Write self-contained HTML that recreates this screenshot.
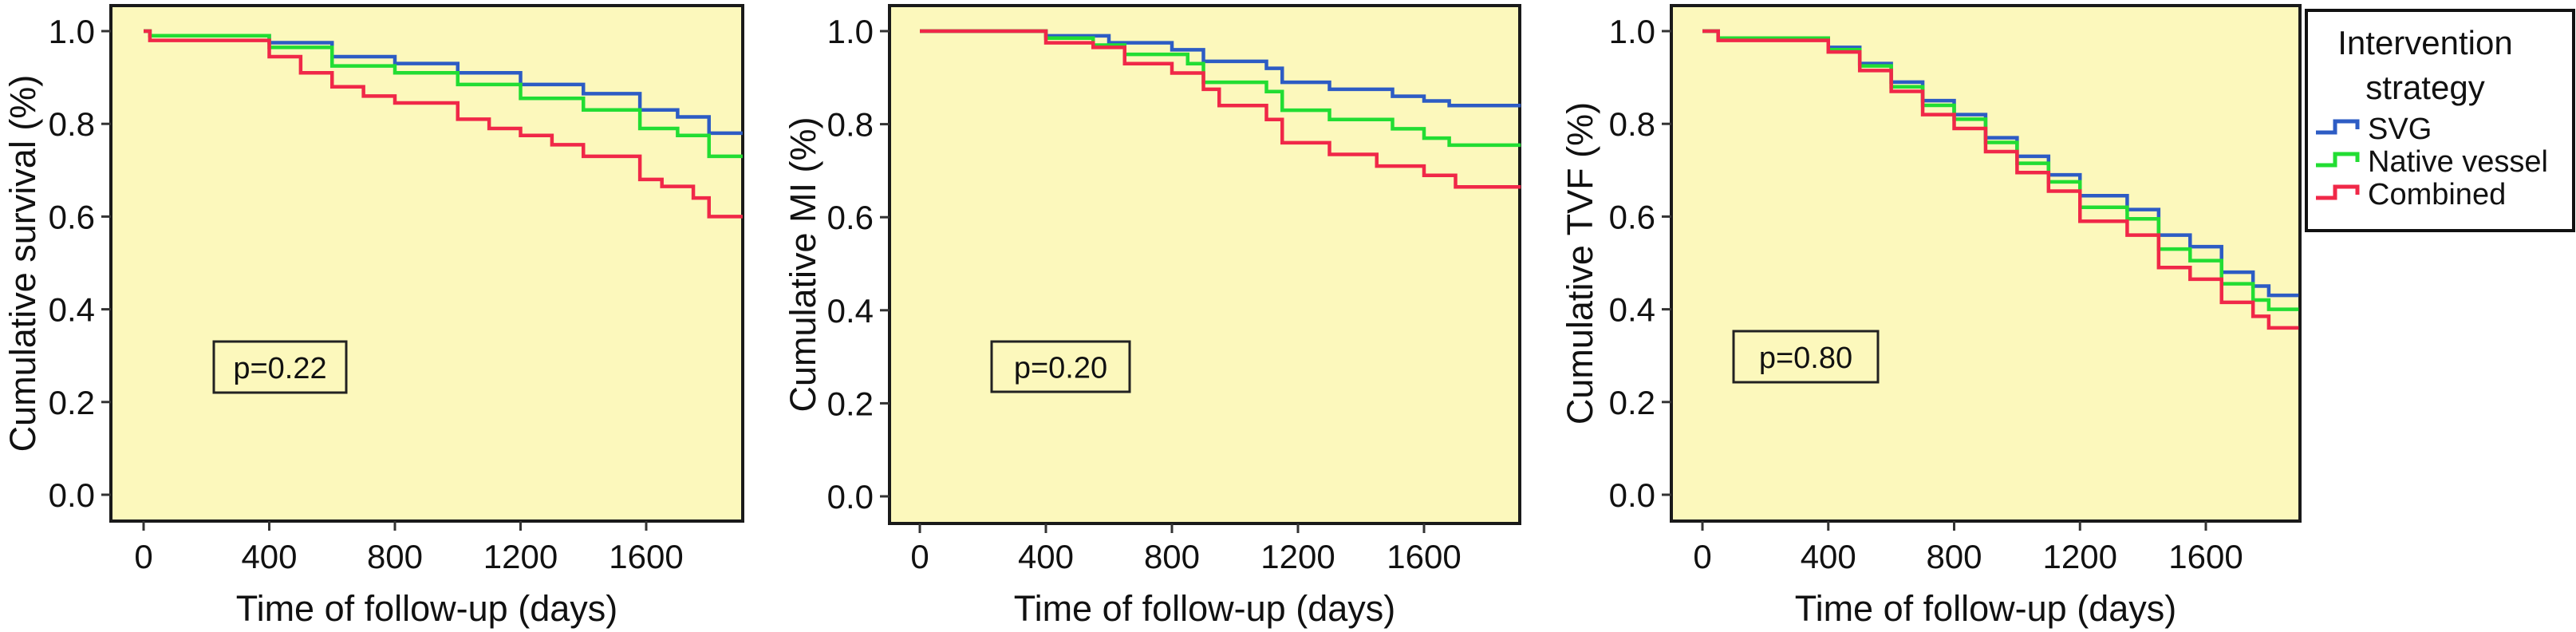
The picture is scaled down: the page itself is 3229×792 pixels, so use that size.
<!DOCTYPE html>
<html><head><meta charset="utf-8"><style>
html,body{margin:0;padding:0;background:#fff;}
svg{display:block;font-family:"Liberation Sans",sans-serif;}
</style></head><body>
<svg id="c" width="3229" height="792" viewBox="0 0 3229 792" xmlns="http://www.w3.org/2000/svg"></svg>
<script>
const xTicks = [0, 400, 800, 1200, 1600];
const yTicks = [0.0, 0.2, 0.4, 0.6, 0.8, 1.0];
const yTickLabels = ["0.0", "0.2", "0.4", "0.6", "0.8", "1.0"];
const seriesNames = ["SVG", "Native vessel", "Combined"];
const seriesColors = ["#2d5cc4", "#22dd33", "#f02848"];
const panelTitles = ["Cumulative survival (%)", "Cumulative MI (%)", "Cumulative TVF (%)"];
const pValues = ["p=0.22", "p=0.20", "p=0.80"];

// Panel 1: survival
const p1Days = {
  svg:   [0, 20, 400, 600, 800, 1000, 1200, 1400, 1580, 1700, 1800, 1907],
  nat:   [0, 20, 400, 600, 800, 1000, 1200, 1400, 1580, 1700, 1800, 1907],
  comb:  [0, 20, 400, 500, 600, 700, 800, 1000, 1100, 1200, 1300, 1400, 1580, 1650, 1750, 1800, 1907]
};
const p1Vals = {
  svg:   [1.0, 0.99, 0.975, 0.945, 0.93, 0.91, 0.885, 0.865, 0.83, 0.815, 0.78, 0.78],
  nat:   [1.0, 0.99, 0.965, 0.925, 0.91, 0.885, 0.855, 0.83, 0.79, 0.775, 0.73, 0.73],
  comb:  [1.0, 0.98, 0.945, 0.91, 0.88, 0.86, 0.845, 0.81, 0.79, 0.775, 0.755, 0.73, 0.68, 0.665, 0.64, 0.60, 0.60]
};
// Panel 2: MI
const p2Days = {
  svg:  [0, 400, 600, 800, 900, 1100, 1150, 1300, 1500, 1600, 1680, 1907],
  nat:  [0, 400, 550, 650, 850, 900, 1100, 1150, 1300, 1500, 1600, 1680, 1907],
  comb: [0, 400, 550, 650, 800, 900, 950, 1100, 1150, 1300, 1450, 1600, 1700, 1907]
};
const p2Vals = {
  svg:  [1.0, 0.99, 0.975, 0.96, 0.935, 0.92, 0.89, 0.875, 0.86, 0.85, 0.84, 0.84],
  nat:  [1.0, 0.985, 0.97, 0.95, 0.93, 0.89, 0.87, 0.83, 0.81, 0.79, 0.77, 0.755, 0.755],
  comb: [1.0, 0.975, 0.965, 0.93, 0.91, 0.875, 0.84, 0.81, 0.76, 0.735, 0.71, 0.69, 0.665, 0.665]
};
// Panel 3: TVF
const p3Days = [0, 50, 400, 500, 600, 700, 800, 900, 1000, 1100, 1200, 1350, 1450, 1550, 1650, 1750, 1800, 1895];
const p3Vals = {
  svg:  [1.0, 0.985, 0.965, 0.93, 0.89, 0.85, 0.82, 0.77, 0.73, 0.69, 0.645, 0.615, 0.56, 0.535, 0.48, 0.45, 0.43, 0.43],
  nat:  [1.0, 0.985, 0.96, 0.925, 0.88, 0.84, 0.81, 0.76, 0.715, 0.675, 0.62, 0.595, 0.53, 0.505, 0.455, 0.42, 0.40, 0.40],
  comb: [1.0, 0.98, 0.955, 0.915, 0.87, 0.82, 0.79, 0.74, 0.695, 0.655, 0.59, 0.56, 0.49, 0.465, 0.415, 0.385, 0.36, 0.36]
};

const panels = [
  {left:139, right:931, top:7, bottom:653, x0:180, x1600:810, y1:39, y0:620, titleX:28, pbox:[268,428,166,64],
   days:[p1Days.svg,p1Days.nat,p1Days.comb], vals:[p1Vals.svg,p1Vals.nat,p1Vals.comb]},
  {left:1115, right:1905, top:7, bottom:656, x0:1153, x1600:1785, y1:39, y0:622, titleX:1006, pbox:[1243,428,173,63],
   days:[p2Days.svg,p2Days.nat,p2Days.comb], vals:[p2Vals.svg,p2Vals.nat,p2Vals.comb]},
  {left:2095, right:2883, top:7, bottom:653, x0:2134, x1600:2765, y1:39, y0:620, titleX:1980, pbox:[2173,415,181,64],
   days:[p3Days,p3Days,p3Days], vals:[p3Vals.svg,p3Vals.nat,p3Vals.comb]}
];
const NS = "http://www.w3.org/2000/svg";
const root = document.getElementById('c');
function mk(tag, attrs, parent){
  const e = document.createElementNS(NS, tag);
  for (const k in attrs) e.setAttribute(k, attrs[k]);
  (parent||root).appendChild(e);
  return e;
}
panels.forEach((p, pi) => {
  const g = mk('g', {});
  
  
  const xs = d => p.x0 + d * (p.x1600 - p.x0) / 1600;
  const ys = v => p.y0 - v * (p.y0 - p.y1);
  const bg = mk('rect', {x:p.left, y:p.top, width:p.right-p.left, height:p.bottom-p.top, fill:'#fcf8bc', stroke:'#1a1a1a', 'stroke-width':4}, g);
  
  
  yTicks.forEach((t, i) => {
    const y = ys(t);
    const tk = mk('line', {x1:p.left-12, x2:p.left, y1:y, y2:y, stroke:'#333', 'stroke-width':3}, g);
    
    
    const tl = mk('text', {x:p.left-20, y:y+15, 'text-anchor':'end', 'font-size':42, fill:'#111'}, g);
    tl.textContent = yTickLabels[i];
    
    
  });
  xTicks.forEach(t => {
    const x = xs(t);
    const tk = mk('line', {x1:x, x2:x, y1:p.bottom, y2:p.bottom+12, stroke:'#333', 'stroke-width':3}, g);
    
    
    const tl = mk('text', {x:x, y:712, 'text-anchor':'middle', 'font-size':42, fill:'#111'}, g);
    tl.textContent = String(t);
    
    
  });
  const xt = mk('text', {x:(p.left+p.right)/2, y:778, 'text-anchor':'middle', 'font-size':45, fill:'#111'}, g);
  xt.textContent = 'Time of follow-up (days)';
  
  
  const yt = mk('text', {x:0, y:0, 'text-anchor':'middle', 'font-size':45, fill:'#111',
    transform:'translate(' + (p.titleX+16) + ',' + ((p.top+p.bottom)/2) + ') rotate(-90)'}, g);
  yt.textContent = panelTitles[pi];
  
  
  [0,1,2].forEach(si => {
    const d = p.days[si], v = p.vals[si];
    let path = 'M' + xs(d[0]) + ',' + ys(v[0]);
    for (let k = 1; k < d.length; k++) {
      path += ' H' + xs(d[k]) + ' V' + ys(v[k]);
    }
    const ln = mk('path', {d:path, fill:'none', stroke:seriesColors[si], 'stroke-width':4.5}, g);
    
    
  });
  const [bx, by, bw, bh] = p.pbox;
  const pb = mk('rect', {x:bx, y:by, width:bw, height:bh, fill:'#fcf8bc', stroke:'#222', 'stroke-width':3}, g);
  
  
  const pt = mk('text', {x:bx+bw/2, y:by+bh/2+14, 'text-anchor':'middle', 'font-size':38, fill:'#111'}, g);
  pt.textContent = pValues[pi];
  
  
});
// legend
const lg = mk('g', {});


const lb = mk('rect', {x:2891, y:13, width:335, height:276, fill:'#fff', stroke:'#111', 'stroke-width':4}, lg);


const lt1 = mk('text', {x:3040, y:68, 'text-anchor':'middle', 'font-size':42, fill:'#111'}, lg);
lt1.textContent = 'Intervention';


const lt2 = mk('text', {x:3040, y:124, 'text-anchor':'middle', 'font-size':42, fill:'#111'}, lg);
lt2.textContent = 'strategy';


seriesNames.forEach((n, i) => {
  const cy = 160 + i * 41;
  const ic = mk('path', {d:'M2903,' + (cy+6) + ' H2927 V' + (cy-8) + ' H2955 V' + (cy+2), fill:'none', stroke:seriesColors[i], 'stroke-width':5}, lg);
  
  
  const tx = mk('text', {x:2968, y:cy+14, 'font-size':38, fill:'#111'}, lg);
  tx.textContent = n;
  
  
});
</script>
</body></html>
